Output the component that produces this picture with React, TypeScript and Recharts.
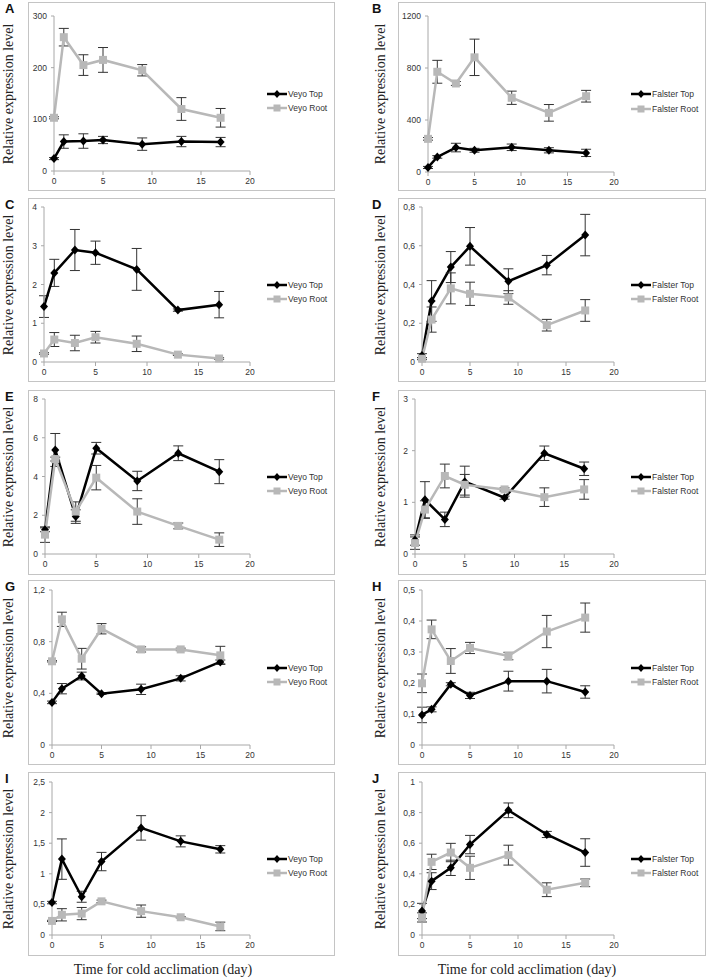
import React from 'react';
import { LineChart, Line, XAxis, YAxis, ErrorBar } from 'recharts';

// sampling days, shared by all panels
const days = [0, 1, 3, 5, 9, 13, 17];
const dayTicks = [0, 5, 10, 15, 20];

// A – Veyo
const aTop = [24, 57, 58, 60, 52, 57, 56];
const aTopErr = [2, 13, 14, 7, 12, 10, 9];
const aRoot = [103, 259, 205, 215, 195, 120, 103];
const aRootErr = [2, 17, 20, 24, 11, 22, 18];
const aTicks = [0, 100, 200, 300];

// B – Falster
const bTop = [35, 116, 188, 167, 190, 167, 147];
const bTopErr = [8, 10, 33, 15, 25, 20, 28];
const bRoot = [255, 771, 681, 882, 571, 455, 583];
const bRootErr = [10, 88, 15, 140, 51, 64, 45];
const bTicks = [0, 400, 800, 1200];

// C – Veyo
const cTop = [1.43, 2.3, 2.89, 2.82, 2.39, 1.34, 1.48];
const cTopErr = [0.28, 0.35, 0.53, 0.3, 0.54, 0.03, 0.34];
const cRoot = [0.22, 0.58, 0.49, 0.64, 0.47, 0.19, 0.09];
const cRootErr = [0.02, 0.18, 0.2, 0.15, 0.2, 0.02, 0.02];
const cTicks = [0, 1, 2, 3, 4];

// D – Falster
const dTop = [0.033, 0.315, 0.49, 0.597, 0.417, 0.5, 0.655];
const dTopErr = [0.01, 0.105, 0.08, 0.097, 0.064, 0.05, 0.107];
const dRoot = [0.017, 0.219, 0.38, 0.352, 0.333, 0.19, 0.266];
const dRootErr = [0.005, 0.065, 0.08, 0.06, 0.035, 0.03, 0.056];
const dTicks = [0, 0.2, 0.4, 0.6, 0.8];

// E – Veyo
const eTop = [1.25, 5.37, 1.93, 5.46, 3.77, 5.2, 4.25];
const eTopErr = [0.1, 0.85, 0.35, 0.3, 0.5, 0.38, 0.62];
const eRoot = [1.0, 4.9, 2.19, 3.94, 2.19, 1.45, 0.74];
const eRootErr = [0.4, 0.1, 0.5, 0.63, 0.66, 0.15, 0.35];
const eTicks = [0, 2, 4, 6, 8];

// F – Falster
const fTop = [0.27, 1.05, 0.67, 1.4, 1.09, 1.95, 1.65];
const fTopErr = [0.1, 0.35, 0.14, 0.3, 0.03, 0.14, 0.13];
const fRoot = [0.21, 0.86, 1.51, 1.34, 1.25, 1.1, 1.25];
const fRootErr = [0.12, 0.17, 0.23, 0.2, 0.03, 0.18, 0.19];
const fTicks = [0, 1, 2, 3];

// G – Veyo
const gTop = [0.33, 0.436, 0.534, 0.397, 0.431, 0.516, 0.643];
const gTopErr = [0.01, 0.04, 0.03, 0.005, 0.04, 0.02, 0.015];
const gRoot = [0.648, 0.973, 0.668, 0.9, 0.74, 0.74, 0.694];
const gRootErr = [0.005, 0.055, 0.08, 0.04, 0.02, 0.01, 0.07];
const gTicks = [0, 0.4, 0.8, 1.2];

// H – Falster
const hTop = [0.097, 0.115, 0.196, 0.16, 0.206, 0.206, 0.171];
const hTopErr = [0.025, 0.008, 0.005, 0.01, 0.032, 0.038, 0.02];
const hRoot = [0.199, 0.373, 0.271, 0.313, 0.287, 0.366, 0.411];
const hRootErr = [0.03, 0.03, 0.04, 0.018, 0.012, 0.052, 0.047];
const hTicks = [0, 0.1, 0.2, 0.3, 0.4, 0.5];

// I – Veyo
const iTop = [0.53, 1.24, 0.625, 1.2, 1.75, 1.53, 1.4];
const iTopErr = [0.02, 0.33, 0.09, 0.15, 0.2, 0.09, 0.06];
const iRoot = [0.23, 0.33, 0.35, 0.55, 0.39, 0.29, 0.14];
const iRootErr = [0.01, 0.1, 0.1, 0.02, 0.1, 0.01, 0.07];
const iTicks = [0, 0.5, 1, 1.5, 2, 2.5];

// J – Falster
const jTop = [0.157, 0.352, 0.439, 0.591, 0.815, 0.657, 0.539];
const jTopErr = [0.05, 0.055, 0.05, 0.06, 0.048, 0.02, 0.09];
const jRoot = [0.115, 0.478, 0.539, 0.439, 0.522, 0.296, 0.341];
const jRootErr = [0.03, 0.05, 0.06, 0.076, 0.065, 0.045, 0.025];
const jTicks = [0, 0.2, 0.4, 0.6, 0.8, 1];

const veyoNames = ['Veyo Top', 'Veyo Root'];
const falsterNames = ['Falster Top', 'Falster Root'];

const BLACK = '#000000';
const GREY = '#b8b8b8';
const AXIS = '#a8a8a8';
const SANS = '"Liberation Sans", Arial, sans-serif';
const SERIF = '"Liberation Serif", "Times New Roman", serif';

const Diamond = (p: any) => {
  const { cx, cy, index } = p;
  if (cx == null || cy == null) return null;
  return (
    <path
      key={`d-${index}`}
      d={`M${cx},${cy - 4.5}L${cx + 4},${cy}L${cx},${cy + 4.5}L${cx - 4},${cy}Z`}
      fill={BLACK}
    />
  );
};

const Square = (p: any) => {
  const { cx, cy, index } = p;
  if (cx == null || cy == null) return null;
  return <rect key={`s-${index}`} x={cx - 4} y={cy - 4} width={8} height={8} fill={GREY} />;
};

const fmt = (v: number) => String(v).replace('.', ',');

interface PanelProps {
  letter: string;
  top: number[];
  topErr: number[];
  root: number[];
  rootErr: number[];
  ticks: number[];
  names: string[];
  box: { x: number; y: number; w: number; h: number };
  plot: { l: number; r: number; t: number; b: number };
  right: boolean;
}

const Panel: React.FC<PanelProps> = ({ letter, top, topErr, root, rootErr, ticks, names, box, plot, right }) => {
  const data = days.map((d, i) => ({
    day: d,
    top: top[i],
    topErr: topErr[i],
    root: root[i],
    rootErr: rootErr[i],
  }));
  const chartLeft = plot.l - 40;
  const chartTop = plot.t - 10;
  const width = plot.r - plot.l + 50;
  const height = plot.b - plot.t + 35;
  const midY = (plot.t + plot.b) / 2;
  const legendX = right ? 631 : 267;
  const labelX = right ? 381 : 9;

  const legendItem = (name: string, i: number) => (
    <div
      key={name}
      style={{
        position: 'absolute',
        left: legendX,
        top: midY + i * 14.5 - 7,
        height: 14,
        display: 'flex',
        alignItems: 'center',
        fontFamily: SANS,
        fontSize: 8.5,
        color: '#333',
        whiteSpace: 'nowrap',
      }}
    >
      <svg width={20} height={14} style={{ display: 'block' }}>
        <line x1={0} y1={7} x2={20} y2={7} stroke={i === 0 ? BLACK : GREY} strokeWidth={2.5} />
        {i === 0 ? (
          <path d="M10,3L13.5,7L10,11L6.5,7Z" fill={BLACK} />
        ) : (
          <rect x={6.5} y={3.5} width={7} height={7} fill={GREY} />
        )}
      </svg>
      <span style={{ marginLeft: 1 }}>{name}</span>
    </div>
  );

  return (
    <>
      <div
        style={{
          position: 'absolute',
          left: box.x,
          top: box.y,
          width: box.w,
          height: box.h,
          border: '1.5px solid #c4c4c4',
          boxSizing: 'border-box',
        }}
      />
      <div
        style={{
          position: 'absolute',
          left: right ? 372 : 5,
          top: box.y,
          fontFamily: SANS,
          fontWeight: 'bold',
          fontSize: 13,
          lineHeight: 1,
          color: '#111',
        }}
      >
        {letter}
      </div>
      <div
        style={{
          position: 'absolute',
          left: labelX,
          top: midY,
          transform: 'translate(-50%, -50%) rotate(-90deg)',
          fontFamily: SERIF,
          fontSize: 14,
          color: '#222',
          whiteSpace: 'nowrap',
        }}
      >
        Relative expression level
      </div>
      <div style={{ position: 'absolute', left: chartLeft, top: chartTop }}>
        <LineChart width={width} height={height} data={data} margin={{ top: 10, right: 10, left: 0, bottom: 0 }}>
          <XAxis
            dataKey="day"
            type="number"
            domain={[0, 20]}
            ticks={dayTicks}
            height={25}
            stroke={AXIS}
            tickSize={4}
            tickMargin={3}
            tick={{ fontSize: 8.5, fontFamily: SANS, fill: '#333' }}
          />
          <YAxis
            type="number"
            domain={[ticks[0], ticks[ticks.length - 1]]}
            ticks={ticks}
            width={40}
            stroke={AXIS}
            tickSize={3}
            tickMargin={4}
            tickFormatter={fmt}
            tick={{ fontSize: 8.5, fontFamily: SANS, fill: '#333' }}
          />
          <Line
            dataKey="top"
            stroke={BLACK}
            strokeWidth={2.5}
            dot={Diamond}
            activeDot={false}
            isAnimationActive={false}
          >
            <ErrorBar dataKey="topErr" direction="y" width={5} stroke="#333" strokeWidth={1} />
          </Line>
          <Line
            dataKey="root"
            stroke={GREY}
            strokeWidth={2.5}
            dot={Square}
            activeDot={false}
            isAnimationActive={false}
          >
            <ErrorBar dataKey="rootErr" direction="y" width={5} stroke="#333" strokeWidth={1} />
          </Line>
        </LineChart>
      </div>
      {names.map((n, i) => legendItem(n, i))}
    </>
  );
};

const App: React.FC = () => {
  const L = { x: 28, w: 307 };
  const R = { x: 398, w: 308 };
  return (
    <div style={{ position: 'absolute', left: 0, top: 0, width: 708, height: 980, background: '#fff' }}>
      <Panel letter="A" top={aTop} topErr={aTopErr} root={aRoot} rootErr={aRootErr} ticks={aTicks} names={veyoNames}
        box={{ x: L.x, y: 2, w: L.w, h: 189 }} plot={{ l: 54, r: 250, t: 16, b: 171 }} right={false} />
      <Panel letter="B" top={bTop} topErr={bTopErr} root={bRoot} rootErr={bRootErr} ticks={bTicks} names={falsterNames}
        box={{ x: R.x, y: 2, w: R.w, h: 189 }} plot={{ l: 428, r: 614, t: 16, b: 172 }} right />
      <Panel letter="C" top={cTop} topErr={cTopErr} root={cRoot} rootErr={cRootErr} ticks={cTicks} names={veyoNames}
        box={{ x: L.x, y: 198, w: L.w, h: 184 }} plot={{ l: 44, r: 250, t: 207, b: 362 }} right={false} />
      <Panel letter="D" top={dTop} topErr={dTopErr} root={dRoot} rootErr={dRootErr} ticks={dTicks} names={falsterNames}
        box={{ x: R.x, y: 198, w: R.w, h: 184 }} plot={{ l: 422, r: 614, t: 207, b: 362 }} right />
      <Panel letter="E" top={eTop} topErr={eTopErr} root={eRoot} rootErr={eRootErr} ticks={eTicks} names={veyoNames}
        box={{ x: L.x, y: 390, w: L.w, h: 185 }} plot={{ l: 45, r: 250, t: 399, b: 554 }} right={false} />
      <Panel letter="F" top={fTop} topErr={fTopErr} root={fRoot} rootErr={fRootErr} ticks={fTicks} names={falsterNames}
        box={{ x: R.x, y: 390, w: R.w, h: 185 }} plot={{ l: 415, r: 614, t: 399, b: 554 }} right />
      <Panel letter="G" top={gTop} topErr={gTopErr} root={gRoot} rootErr={gRootErr} ticks={gTicks} names={veyoNames}
        box={{ x: L.x, y: 580, w: L.w, h: 185 }} plot={{ l: 52, r: 250, t: 590, b: 745 }} right={false} />
      <Panel letter="H" top={hTop} topErr={hTopErr} root={hRoot} rootErr={hRootErr} ticks={hTicks} names={falsterNames}
        box={{ x: R.x, y: 580, w: R.w, h: 185 }} plot={{ l: 422, r: 614, t: 590, b: 745 }} right />
      <Panel letter="I" top={iTop} topErr={iTopErr} root={iRoot} rootErr={iRootErr} ticks={iTicks} names={veyoNames}
        box={{ x: L.x, y: 772, w: L.w, h: 184 }} plot={{ l: 52, r: 250, t: 782, b: 935 }} right={false} />
      <Panel letter="J" top={jTop} topErr={jTopErr} root={jRoot} rootErr={jRootErr} ticks={jTicks} names={falsterNames}
        box={{ x: R.x, y: 772, w: R.w, h: 184 }} plot={{ l: 422, r: 614, t: 782, b: 935 }} right />
      <div style={{ position: 'absolute', left: 163, top: 970, transform: 'translate(-50%, -50%)', fontFamily: SERIF, fontSize: 14, color: '#222', whiteSpace: 'nowrap' }}>
        Time for cold acclimation (day)
      </div>
      <div style={{ position: 'absolute', left: 527, top: 970, transform: 'translate(-50%, -50%)', fontFamily: SERIF, fontSize: 14, color: '#222', whiteSpace: 'nowrap' }}>
        Time for cold acclimation (day)
      </div>
    </div>
  );
};

export default App;
